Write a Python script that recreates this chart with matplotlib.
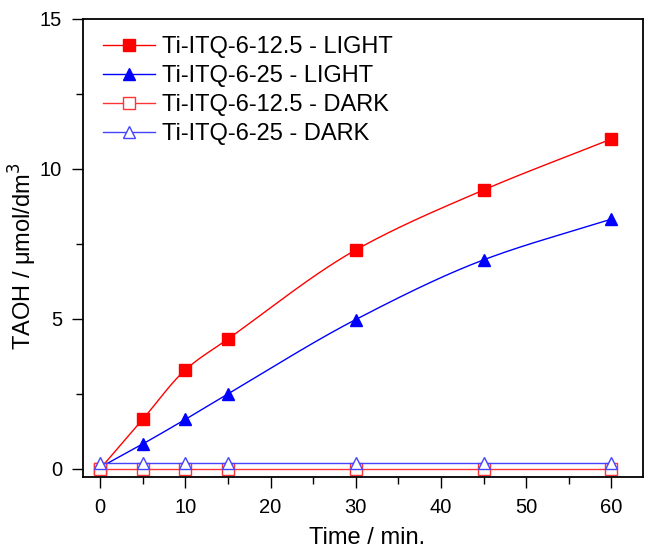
import matplotlib
matplotlib.use("Agg")
import matplotlib.pyplot as plt
from matplotlib.ticker import MultipleLocator
import numpy as np

plt.rcParams['font.family'] = ['Liberation Sans', 'DejaVu Sans']

time_min = [0, 5, 10, 15, 30, 45, 60]
light_125 = [0.0, 1.65, 3.3, 4.33, 7.3, 9.3, 11.0]
light_25 = [0.05, 0.83, 1.65, 2.5, 4.98, 6.97, 8.33]
dark_125 = [0.0, 0.0, 0.0, 0.0, 0.0, 0.0, 0.0]
dark_25 = [0.2, 0.2, 0.2, 0.2, 0.2, 0.2, 0.2]

labels = ["Ti-ITQ-6-12.5 - LIGHT", "Ti-ITQ-6-25 - LIGHT",
          "Ti-ITQ-6-12.5 - DARK", "Ti-ITQ-6-25 - DARK"]


def smooth(x, y, n=300):
    # monotone cubic (pchip) through the points, only for the drawn line
    x = np.asarray(x, float)
    y = np.asarray(y, float)
    h = np.diff(x)
    dl = np.diff(y) / h
    m = np.zeros_like(y)
    for i in range(1, len(x) - 1):
        if dl[i - 1] * dl[i] > 0:
            w1 = 2 * h[i] + h[i - 1]
            w2 = h[i] + 2 * h[i - 1]
            m[i] = (w1 + w2) / (w1 / dl[i - 1] + w2 / dl[i])
    m[0] = dl[0]
    m[-1] = dl[-1]
    xs = np.linspace(x[0], x[-1], n)
    idx = np.clip(np.searchsorted(x, xs) - 1, 0, len(x) - 2)
    t = (xs - x[idx]) / h[idx]
    h00 = 2 * t**3 - 3 * t**2 + 1
    h10 = t**3 - 2 * t**2 + t
    h01 = -2 * t**3 + 3 * t**2
    h11 = t**3 - t**2
    ys = (h00 * y[idx] + h10 * h[idx] * m[idx] + h01 * y[idx + 1]
          + h11 * h[idx] * m[idx + 1])
    return xs, ys


fig = plt.figure(figsize=(6.45, 5.48), dpi=100)
ax = fig.add_axes([83 / 645, 1 - 477 / 548, 560 / 645, 458 / 548])

series = [
    (light_125, 'red', 's', 'red', 8),
    (light_25, 'blue', '^', 'blue', 9),
    (dark_125, '#ff3333', 's', 'white', 8),
    (dark_25, '#4444ff', '^', 'white', 9),
]
for (vals, col, mk, fc, ms), lab in zip(series, labels):
    xs, ys = smooth(time_min, vals)
    ax.plot(xs, ys, color=col, lw=1.0)
    ax.plot(time_min, vals, ls='none', marker=mk, ms=ms, mfc=fc,
            mec=col, mew=1.0)
    ax.plot([], [], color=col, lw=1.0, marker=mk, ms=ms, mfc=fc, mec=col,
            label=lab)

ax.set_xlim(-2, 63.7)
ax.set_ylim(-0.27, 15)
ax.xaxis.set_major_locator(MultipleLocator(10))
ax.xaxis.set_minor_locator(MultipleLocator(5))
ax.yaxis.set_major_locator(MultipleLocator(5))
ax.yaxis.set_minor_locator(MultipleLocator(2.5))
ax.tick_params(which='both', direction='out', top=False, right=False,
               labelsize=14.5, width=1.0)
ax.tick_params(which='major', length=8, pad=7)
ax.tick_params(which='minor', length=5)
for s in ax.spines.values():
    s.set_linewidth(1.3)

ax.set_xlabel("Time / min.", fontsize=17, va='center')
ax.set_ylabel("TAOH / μmol/dm$^3$", fontsize=17, va='center')
ax.xaxis.set_label_coords(0.507, -0.133)
ax.yaxis.set_label_coords(-0.108, 0.483)

ax.legend(loc='upper left', bbox_to_anchor=(0.036, 0.963), frameon=False,
          fontsize=17, handlelength=2.2, handletextpad=0.3,
          labelspacing=0.3, borderaxespad=0, borderpad=0)

fig.savefig("out.png", dpi=100)
